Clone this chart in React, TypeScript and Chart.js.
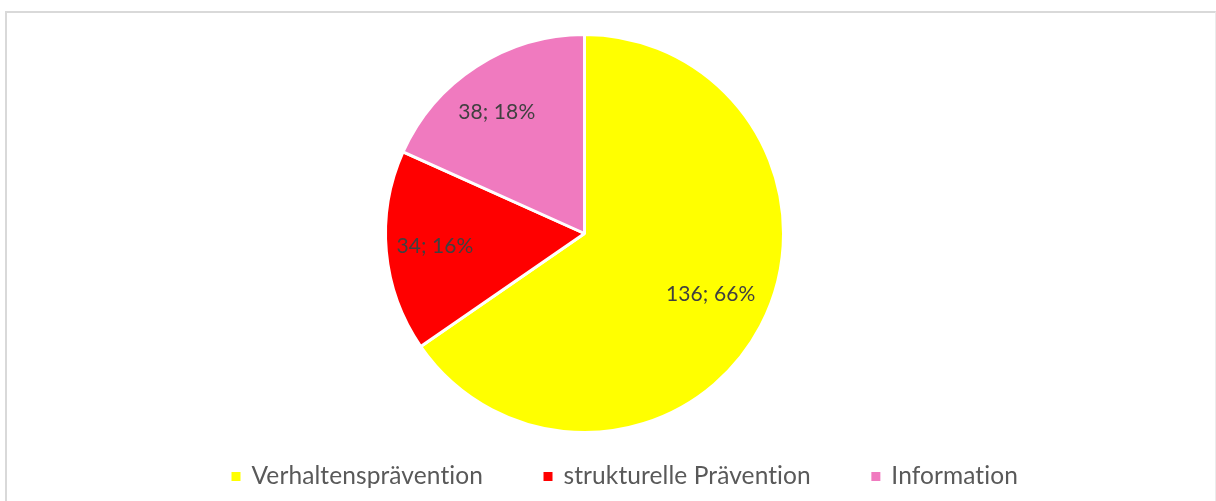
import React, { useEffect, useRef } from 'react';
import { Chart, registerables } from 'chart.js';

Chart.register(...registerables);

// ---- data ----
const categories = ['Verhaltensprävention', 'strukturelle Prävention', 'Information'];
const counts = [136, 34, 38];
const percentLabels = ['66%', '16%', '18%'];
const sliceColors = ['#FFFF00', '#FF0000', '#F07ABF'];

const FONT_FAMILY = 'Lato, "Noto Sans", sans-serif';

const sliceLabelPlugin = {
  id: 'sliceLabels',
  afterDatasetsDraw(chart: any, _args: any, opts: any) {
    const ctx = chart.ctx;
    const meta = chart.getDatasetMeta(0);
    const values = chart.data.datasets[0].data;
    ctx.save();
    ctx.font = `${opts.size}px ${FONT_FAMILY}`;
    try { (ctx as any).letterSpacing = '0.1px'; } catch (e) { /* ignore */ }
    ctx.fillStyle = opts.color;
    ctx.textAlign = 'center';
    ctx.textBaseline = 'middle';
    meta.data.forEach((arc: any, i: number) => {
      const p = arc.getProps(['x', 'y', 'startAngle', 'endAngle', 'outerRadius'], true);
      const mid = (p.startAngle + p.endAngle) / 2 + (opts.angleShift[i] * Math.PI) / 180;
      const r = p.outerRadius * opts.radial[i];
      ctx.fillText(`${values[i]}; ${percentLabels[i]}`, p.x + Math.cos(mid) * r, p.y + Math.sin(mid) * r);
    });
    ctx.restore();
  },
};

const bottomLegendPlugin = {
  id: 'bottomLegend',
  afterDraw(chart: any, _args: any, opts: any) {
    const ctx = chart.ctx;
    const ds = chart.data.datasets[0];
    ctx.save();
    ctx.font = `${opts.size}px ${FONT_FAMILY}`;
    try { (ctx as any).letterSpacing = '0.1px'; } catch (e) { /* ignore */ }
    ctx.textBaseline = 'middle';
    ctx.textAlign = 'left';
    let x = opts.x;
    (chart.data.labels as string[]).forEach((label, i) => {
      ctx.fillStyle = ds.backgroundColor[i];
      ctx.fillRect(x, opts.y - opts.box / 2, opts.box, opts.box);
      x += opts.box + opts.textGap;
      ctx.fillStyle = opts.color;
      ctx.fillText(label, x, opts.y);
      x += ctx.measureText(label).width + opts.itemGap;
    });
    ctx.restore();
  },
};

export default function App() {
  const canvasRef = useRef<HTMLCanvasElement | null>(null);

  useEffect(() => {
    document.body.style.margin = '0';
    const canvas = canvasRef.current;
    if (!canvas) return;
    const chart = new Chart(canvas, {
      type: 'pie',
      data: {
        labels: categories,
        datasets: [
          {
            data: counts,
            backgroundColor: sliceColors,
            borderColor: '#FFFFFF',
            borderWidth: 3,
            radius: 199,
            hoverOffset: 0,
            clip: false,
          } as any,
        ],
      },
      plugins: [sliceLabelPlugin, bottomLegendPlugin],
      options: {
        responsive: false,
        animation: false,
        devicePixelRatio: 1,
        layout: { padding: { left: 0, right: 47, top: 0, bottom: 34 } },
        plugins: {
          legend: { display: false },
          tooltip: { enabled: false },
          sliceLabels: {
            size: 21,
            color: '#404040',
            radial: [0.703, 0.754, 0.754],
            angleShift: [-2.1, 0.5, -2.9],
          },
          bottomLegend: { size: 24.5, color: '#595959', x: 231.5, y: 476.5, box: 9, textGap: 11, itemGap: 60.5 },
        } as any,
      },
    });
    return () => chart.destroy();
  }, []);

  return (
    <div style={{ position: 'relative', width: 1216, height: 501, overflow: 'hidden', background: '#fff' }}>
      <canvas
        ref={canvasRef}
        width={1216}
        height={501}
        style={{ position: 'absolute', left: 0, top: 0, width: 1216, height: 501 }}
      />
      <div
        style={{
          position: 'absolute',
          left: 5,
          top: 11,
          width: 1208,
          height: 520,
          borderTop: '2px solid #D9D9D9',
          borderLeft: '2px solid #D9D9D9',
          borderRight: '1px solid #EBEBEB',
          pointerEvents: 'none',
        }}
      />
    </div>
  );
}
